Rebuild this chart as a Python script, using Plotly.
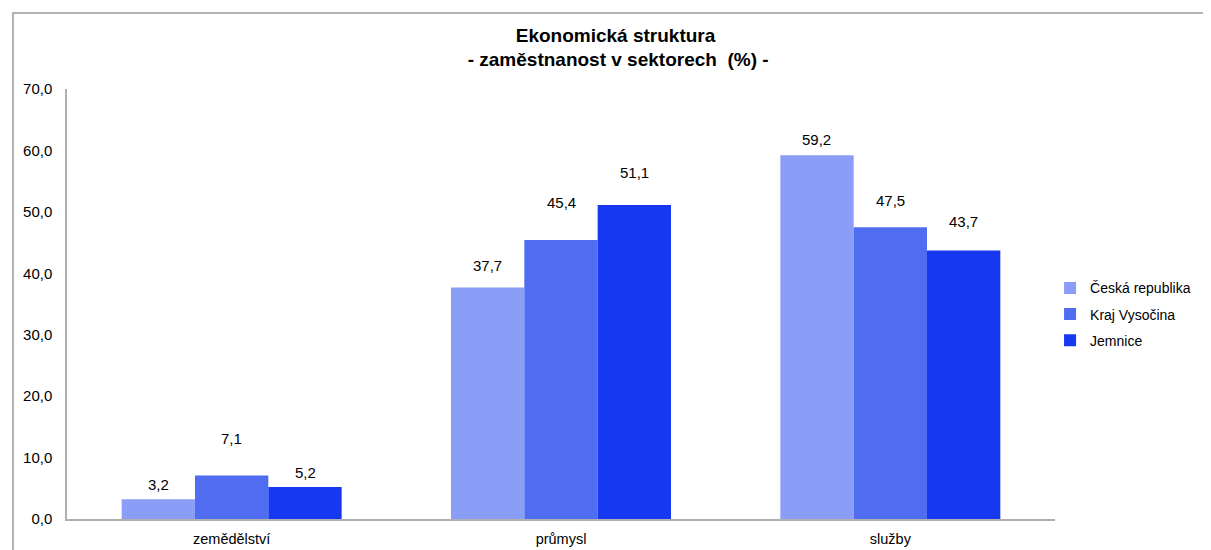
import plotly.graph_objects as go

categories = ["zemědělství", "průmysl", "služby"]
series_names = ["Česká republika", "Kraj Vysočina", "Jemnice"]
cr_values = [3.2, 37.7, 59.2]
kraj_values = [7.1, 45.4, 47.5]
jemnice_values = [5.2, 51.1, 43.7]
y_ticks = [0, 10, 20, 30, 40, 50, 60, 70]

series_values = [cr_values, kraj_values, jemnice_values]
colors = ["#8a9ef8", "#506cf0", "#1638f0"]
label_shifts = [[15, 22, 16], [37, 38, 27], [15, 33, 29]]
bar_w = 0.2227
offsets = [-bar_w, 0.0, bar_w]

FONT = "Liberation Sans, Arial, sans-serif"

fig = go.Figure()
for i, (name, vals) in enumerate(zip(series_names, series_values)):
    fig.add_trace(go.Bar(
        x=categories, y=vals, name=name,
        marker=dict(color=colors[i], line=dict(width=0)),
        legendgroup=name,
    ))

annotations = []
for i, vals in enumerate(series_values):
    for j, v in enumerate(vals):
        annotations.append(dict(
            x=j + offsets[i], y=v, xref="x", yref="y",
            text=f"{v:.1f}".replace(".", ","),
            showarrow=False, yanchor="middle", yshift=label_shifts[i][j],
            font=dict(family=FONT, size=15, color="#000000"),
        ))

fig.update_layout(
    width=1203, height=542,
    margin=dict(l=59, r=156, t=81, b=31),
    paper_bgcolor="white", plot_bgcolor="white",
    font=dict(family=FONT, size=15, color="#000000"),
    separators=",.",
    barmode="group", bargap=0.332, bargroupgap=0,
    title=dict(
        text="<b>Ekonomická struktura<br> - zaměstnanost v sektorech  (%) -</b>",
        x=0.505, xanchor="center", y=0.938, yanchor="middle",
        font=dict(family=FONT, size=19, color="#000000"),
    ),
    showlegend=True,
    legend=dict(
        x=0.995, xanchor="left", y=0.476, yanchor="middle",
        font=dict(family=FONT, size=14), tracegroupgap=5,
        bgcolor="rgba(0,0,0,0)",
    ),
    annotations=annotations,
    shapes=[dict(
        type="rect", xref="paper", yref="paper",
        x0=-0.0547, x1=1.3, y0=-0.2, y1=1.177,
        line=dict(color="#9a9a9a", width=1.5), fillcolor="rgba(0,0,0,0)",
        layer="below",
    )],
)
fig.update_xaxes(
    type="category", showline=True, linecolor="#b0b0b0", linewidth=1.5,
    ticks="", showgrid=False, tickfont=dict(family=FONT, size=14.5),
    ticklabelstandoff=6, automargin=False,
)
fig.update_yaxes(
    range=[0, 70], tickvals=y_ticks, tickformat=".1f",
    showline=True, linecolor="#b0b0b0", linewidth=1.5,
    ticks="", ticklen=0, showgrid=False, zeroline=False,
    tickfont=dict(family=FONT, size=15), ticklabelstandoff=10,
    automargin=False,
)

fig.write_html("out.html")
